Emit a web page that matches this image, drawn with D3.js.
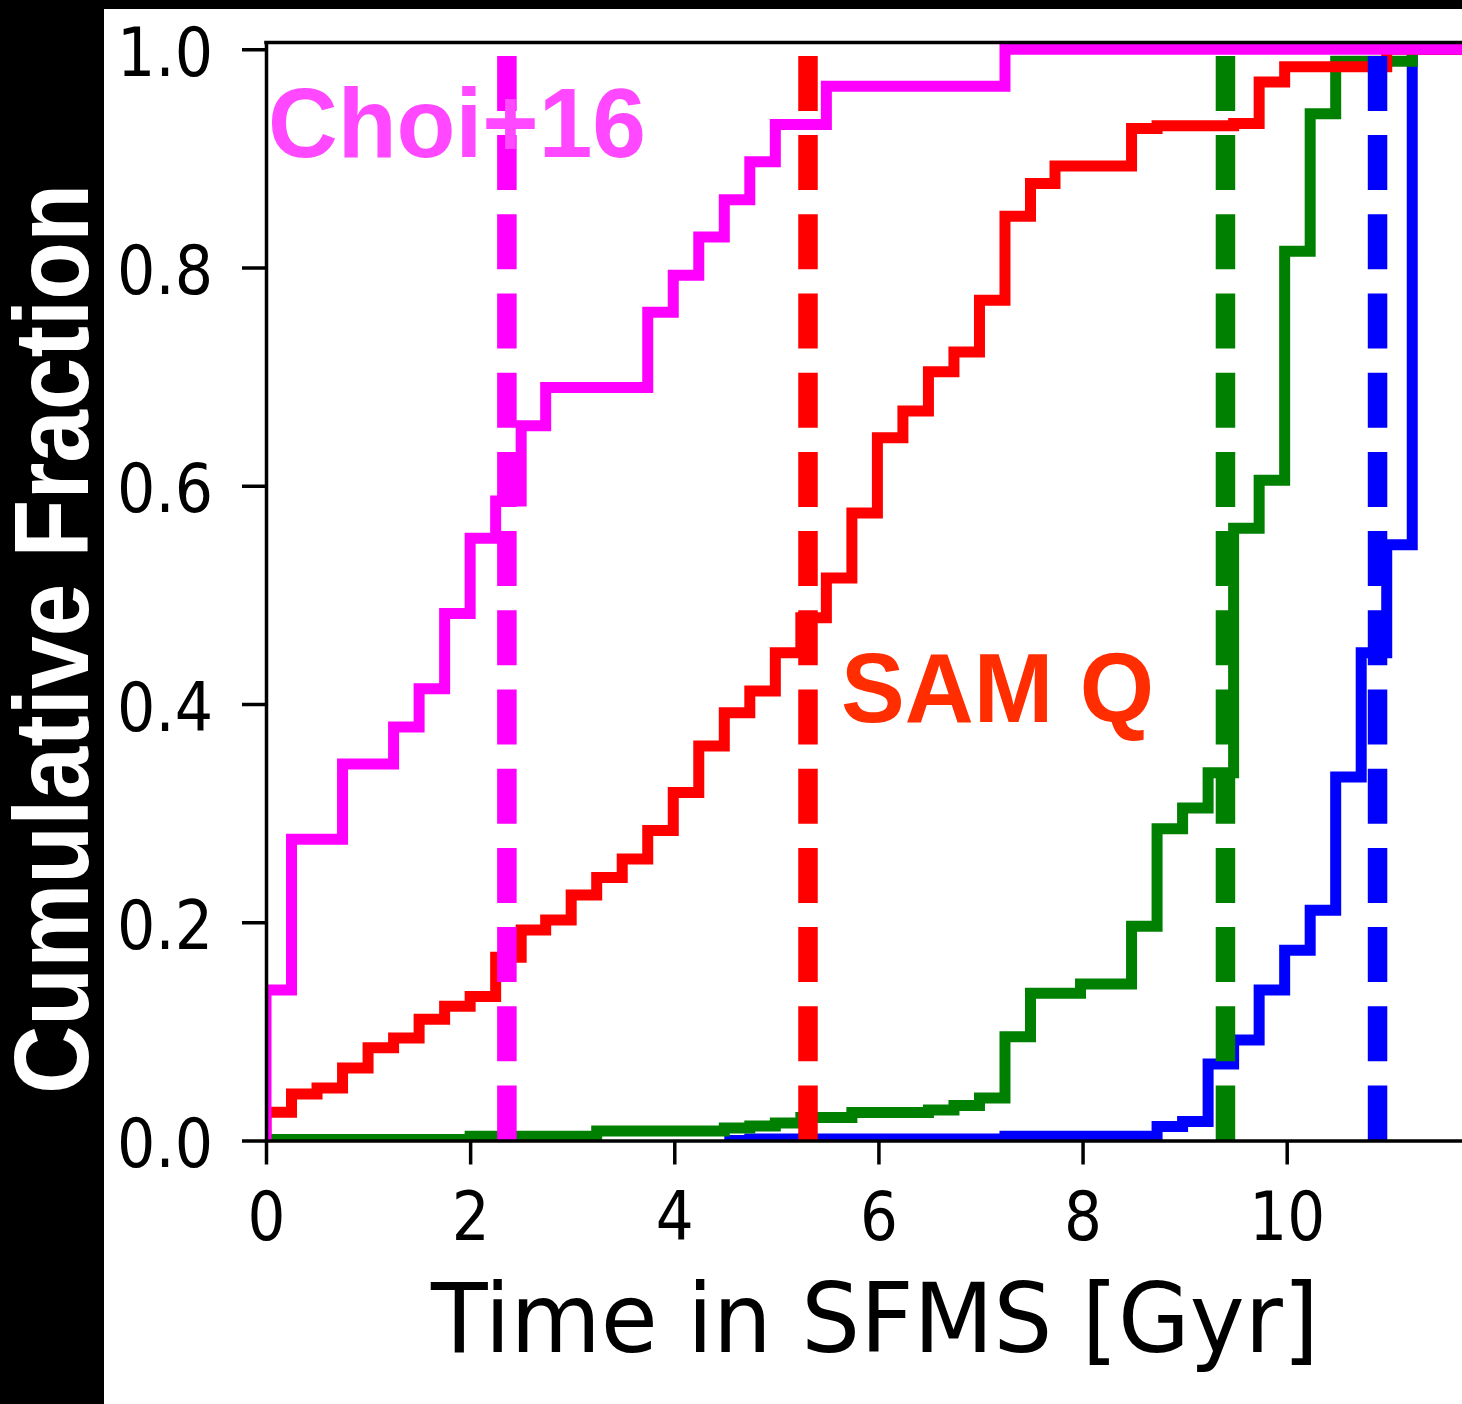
<!DOCTYPE html>
<html>
<head>
<meta charset="utf-8">
<script src="https://cdn.jsdelivr.net/npm/d3@7"></script>
<style>
  html, body { margin: 0; padding: 0; background: #fff; }
  svg { display: block; }
</style>
</head>
<body>
<svg id="chart" width="1462" height="1404"></svg>
<script>
// Cumulative fraction of galaxies vs. time spent on the star-forming main sequence

const xLimits = [0, 12];
const yLimits = [0, 1.0062];
const xTicks = [0, 2, 4, 6, 8, 10];
const yTicks = [0, 0.2, 0.4, 0.6, 0.8, 1.0];

// Step curves: [time in SFMS (Gyr), cumulative fraction reached at that time]
const choi16 = [
  [0, 0], [0, 0.138], [0.25, 0.276], [0.75, 0.345], [1.25, 0.379], [1.5, 0.414],
  [1.75, 0.483], [2.0, 0.552], [2.25, 0.586], [2.5, 0.655], [2.74, 0.690],
  [3.74, 0.759], [3.99, 0.793], [4.24, 0.828], [4.49, 0.862], [4.74, 0.897],
  [4.99, 0.931], [5.49, 0.966], [7.24, 1.0], [12, 1.0]
];

const samQ = [
  [0, 0], [0, 0.026], [0.25, 0.0425], [0.5, 0.048], [0.75, 0.0665], [1.0, 0.085],
  [1.25, 0.094], [1.5, 0.111], [1.75, 0.123], [2.0, 0.132], [2.25, 0.168],
  [2.5, 0.193], [2.74, 0.202], [2.99, 0.225], [3.24, 0.241], [3.49, 0.258],
  [3.74, 0.284], [3.99, 0.319], [4.24, 0.3615], [4.49, 0.392], [4.74, 0.412],
  [4.99, 0.447], [5.24, 0.479], [5.49, 0.5155], [5.74, 0.575], [5.99, 0.644],
  [6.24, 0.6685], [6.49, 0.7045], [6.74, 0.7225], [6.99, 0.770], [7.24, 0.847],
  [7.49, 0.877], [7.73, 0.893], [8.48, 0.9275], [8.73, 0.930], [9.48, 0.932],
  [9.73, 0.970], [9.98, 0.984], [10.98, 1.0], [12, 1.0]
];

const greenSample = [
  [0, 0.001], [2.0, 0.004], [3.24, 0.0086], [4.49, 0.0114], [4.74, 0.0132],
  [4.99, 0.016], [5.24, 0.021], [5.74, 0.0257], [6.49, 0.028], [6.74, 0.032],
  [6.99, 0.039], [7.24, 0.095], [7.49, 0.135], [7.98, 0.1434], [8.48, 0.1964],
  [8.73, 0.2858], [8.98, 0.3048], [9.23, 0.337], [9.48, 0.561], [9.73, 0.605],
  [9.98, 0.815], [10.23, 0.941], [10.48, 0.989], [11.23, 1.0], [12, 1.0]
];

const blueSample = [
  [4.49, 0], [4.74, 0.0013], [7.24, 0.004], [8.73, 0.0128], [8.98, 0.0174],
  [9.23, 0.070], [9.48, 0.092], [9.73, 0.138], [9.98, 0.1743], [10.23, 0.211],
  [10.48, 0.333], [10.73, 0.447], [10.98, 0.546], [11.23, 1.0], [12, 1.0]
];

// Median time of each sample (Choi+16, SAM Q, green, blue)
const medianTimes = [2.36, 5.31, 9.40, 10.89];

// ---------------------------------------------------------------------------
const svg = d3.select("#chart");
const W = 1462, H = 1404;

const x = d3.scaleLinear().domain(xLimits).range([266, 266 + 102.07 * 12]);
const y = d3.scaleLinear().domain(yLimits).range([1140.5, 42.5]);

// page frame
svg.append("rect").attr("width", W).attr("height", H).attr("fill", "#fff");
svg.append("rect").attr("x", 0).attr("y", 0).attr("width", W).attr("height", 9).attr("fill", "#000");
svg.append("rect").attr("x", 0).attr("y", 0).attr("width", 104).attr("height", H).attr("fill", "#000");

// clip lines to the axes box
svg.append("clipPath").attr("id", "plotClip")
  .append("rect")
  .attr("x", x(xLimits[0]))
  .attr("y", y(yLimits[1]))
  .attr("width", x(xLimits[1]) - x(xLimits[0]))
  .attr("height", y(yLimits[0]) - y(yLimits[1]));

const plot = svg.append("g").attr("clip-path", "url(#plotClip)");

const step = d3.line()
  .x(d => x(d[0]))
  .y(d => y(d[1]))
  .curve(d3.curveStepAfter);

const curves = [
  { data: blueSample, color: "#0000ff" },
  { data: greenSample, color: "#008000" },
  { data: samQ, color: "#ff0000" },
  { data: choi16, color: "#ff00ff" }
];

plot.selectAll("path.cdf")
  .data(curves)
  .join("path")
  .attr("class", "cdf")
  .attr("d", c => step(c.data))
  .attr("fill", "none")
  .attr("stroke", c => c.color)
  .attr("stroke-width", 11)
  .attr("stroke-linejoin", "miter")
  .attr("stroke-linecap", "butt");

// dashed median markers
const medianColors = ["#ff00ff", "#ff0000", "#008000", "#0000ff"];
plot.selectAll("line.median")
  .data(medianTimes)
  .join("line")
  .attr("class", "median")
  .attr("x1", d => x(d))
  .attr("x2", d => x(d))
  .attr("y1", y(0))
  .attr("y2", y(1))
  .attr("stroke", (d, i) => medianColors[i])
  .attr("stroke-width", 19.5)
  .attr("stroke-dasharray", "55 24.2")
  .attr("stroke-linecap", "butt");

// axes
const yAxis = d3.axisLeft(y)
  .tickValues(yTicks)
  .tickFormat(d3.format(".1f"))
  .tickSizeInner(24)
  .tickSizeOuter(0);

const gy = svg.append("g")
  .attr("transform", `translate(${x(0)},0)`)
  .call(yAxis);

const xAxis = d3.axisBottom(x)
  .tickValues(xTicks)
  .tickFormat(d3.format("d"))
  .tickSizeInner(24)
  .tickSizeOuter(0);

const gx = svg.append("g")
  .attr("transform", `translate(0,${y(0)})`)
  .call(xAxis);

[gx, gy].forEach(g => {
  g.select(".domain").attr("stroke", "#000").attr("stroke-width", 3.5).attr("stroke-linecap", "square");
  g.selectAll(".tick line").attr("stroke", "#000").attr("stroke-width", 3.5);
  g.selectAll(".tick text")
    .attr("fill", "#000")
    .style("font-family", "'DejaVu Sans'")
    .style("font-size", "67px");
});

gy.selectAll(".tick text")
  .attr("x", null)
  .attr("dy", "0.39em")
  .attr("text-anchor", "end")
  .attr("transform", "translate(-53,0) scale(0.9,1)");

gx.selectAll(".tick text")
  .attr("y", null)
  .attr("dy", null)
  .attr("text-anchor", "middle")
  .attr("transform", "translate(0,99.5) scale(0.89,1)");

// top spine
svg.append("line")
  .attr("x1", x(xLimits[0]))
  .attr("x2", x(xLimits[1]))
  .attr("y1", y(yLimits[1]))
  .attr("y2", y(yLimits[1]))
  .attr("stroke", "#000")
  .attr("stroke-width", 3.5)
  .attr("stroke-linecap", "square");

// axis titles
svg.append("text")
  .attr("x", 875)
  .attr("y", 1352)
  .attr("text-anchor", "middle")
  .attr("textLength", 888)
  .attr("lengthAdjust", "spacingAndGlyphs")
  .style("font-family", "'DejaVu Sans'")
  .style("font-size", "96px")
  .attr("fill", "#000")
  .text("Time in SFMS [Gyr]");

svg.append("text")
  .attr("transform", "translate(88,639) rotate(-90)")
  .attr("text-anchor", "middle")
  .attr("textLength", 910)
  .attr("lengthAdjust", "spacingAndGlyphs")
  .style("font-family", "'Liberation Sans', Arial, sans-serif")
  .style("font-weight", "bold")
  .style("font-size", "105px")
  .attr("fill", "#fff")
  .text("Cumulative Fraction");

// sample labels
svg.append("text")
  .attr("x", 268)
  .attr("y", 157)
  .attr("textLength", 378)
  .attr("lengthAdjust", "spacingAndGlyphs")
  .style("font-family", "'Liberation Sans', Arial, sans-serif")
  .style("font-weight", "bold")
  .style("font-size", "99px")
  .attr("fill", "#ff48ff")
  .text("Choi+16");

svg.append("text")
  .attr("x", 841)
  .attr("y", 722)
  .attr("textLength", 313)
  .attr("lengthAdjust", "spacingAndGlyphs")
  .style("font-family", "'Liberation Sans', Arial, sans-serif")
  .style("font-weight", "bold")
  .style("font-size", "99px")
  .attr("fill", "#ff2d00")
  .text("SAM Q");
</script>
</body>
</html>
